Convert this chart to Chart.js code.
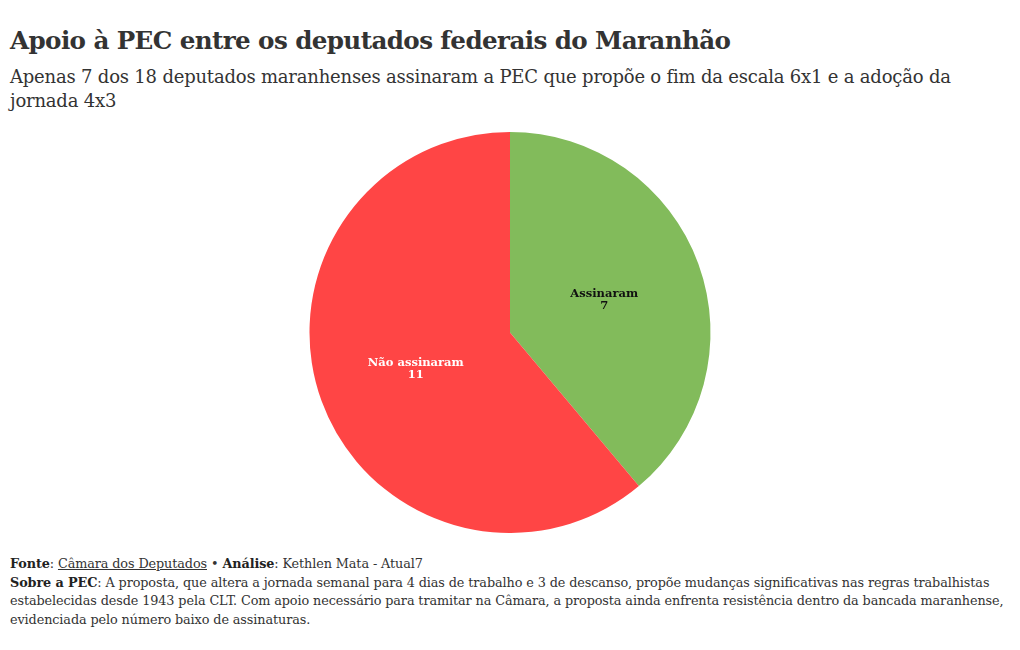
<!DOCTYPE html>
<html lang="pt-BR">
<head>
<meta charset="utf-8">
<script src="https://cdn.jsdelivr.net/npm/chart.js@4/dist/chart.umd.min.js"></script>
<style>
  body { margin: 0; background: #fff; font-family: "DejaVu Serif", "Liberation Serif", serif; color: #333; }
  #wrap { position: relative; width: 1020px; height: 650px; }
  h1 { position: absolute; left: 10px; top: 26px; margin: 0; font-size: 24.6px; font-weight: bold; letter-spacing: -0.6px; color: #333; }
  .sub { position: absolute; left: 10px; top: 65px; margin: 0; font-size: 18px; line-height: 24px; letter-spacing: -0.2px; color: #333; }
  #chartBox { position: absolute; left: 0; top: 132px; width: 1020px; height: 401px; }
  .foot { position: absolute; left: 10px; top: 555px; font-size: 12.8px; line-height: 18.5px; letter-spacing: -0.1px; color: #333; }
  .foot b { color: #222; }
  .foot u { text-decoration: underline; }
</style>
</head>
<body>
<div id="wrap">
  <h1>Apoio à PEC entre os deputados federais do Maranhão</h1>
  <p class="sub">Apenas 7 dos 18 deputados maranhenses assinaram a PEC que propõe o fim da escala 6x1 e a adoção da<br>jornada 4x3</p>
  <div id="chartBox"><canvas id="pie"></canvas></div>
  <div class="foot">
    <b>Fonte</b>: <u>Câmara dos Deputados</u> • <b>Análise</b>: Kethlen Mata - Atual7<br>
    <b>Sobre a PEC</b>: A proposta, que altera a jornada semanal para 4 dias de trabalho e 3 de descanso, propõe mudanças significativas nas regras trabalhistas<br>
    estabelecidas desde 1943 pela CLT. Com apoio necessário para tramitar na Câmara, a proposta ainda enfrenta resistência dentro da bancada maranhense,<br>
    evidenciada pelo número baixo de assinaturas.
  </div>
</div>
<script>
const categorias = ["Assinaram", "Não assinaram"];
const deputados = [7, 11];
const cores = ["#82bb5b", "#ff4545"];
const coresTexto = ["#111111", "#ffffff"];

// rótulos no meio de cada fatia
const rotulosFatias = {
  id: "rotulosFatias",
  afterDatasetsDraw(chart) {
    const { ctx } = chart;
    const meta = chart.getDatasetMeta(0);
    ctx.save();
    ctx.textAlign = "center";
    ctx.textBaseline = "middle";
    ctx.font = "bold 11.5px 'DejaVu Serif', serif";
    meta.data.forEach((arc, i) => {
      const pos = arc.tooltipPosition();
      ctx.fillStyle = coresTexto[i];
      ctx.fillText(categorias[i], pos.x, pos.y - 4);
      ctx.fillText(String(deputados[i]), pos.x, pos.y + 8);
    });
    ctx.restore();
  }
};

new Chart(document.getElementById("pie"), {
  type: "pie",
  data: {
    labels: categorias,
    datasets: [{
      data: deputados,
      backgroundColor: cores,
      borderWidth: 0,
      hoverOffset: 0
    }]
  },
  options: {
    responsive: true,
    maintainAspectRatio: false,
    animation: false,
    layout: { padding: 0 },
    plugins: {
      legend: { display: false },
      tooltip: { enabled: false }
    }
  },
  plugins: [rotulosFatias]
});
</script>
</body>
</html>
